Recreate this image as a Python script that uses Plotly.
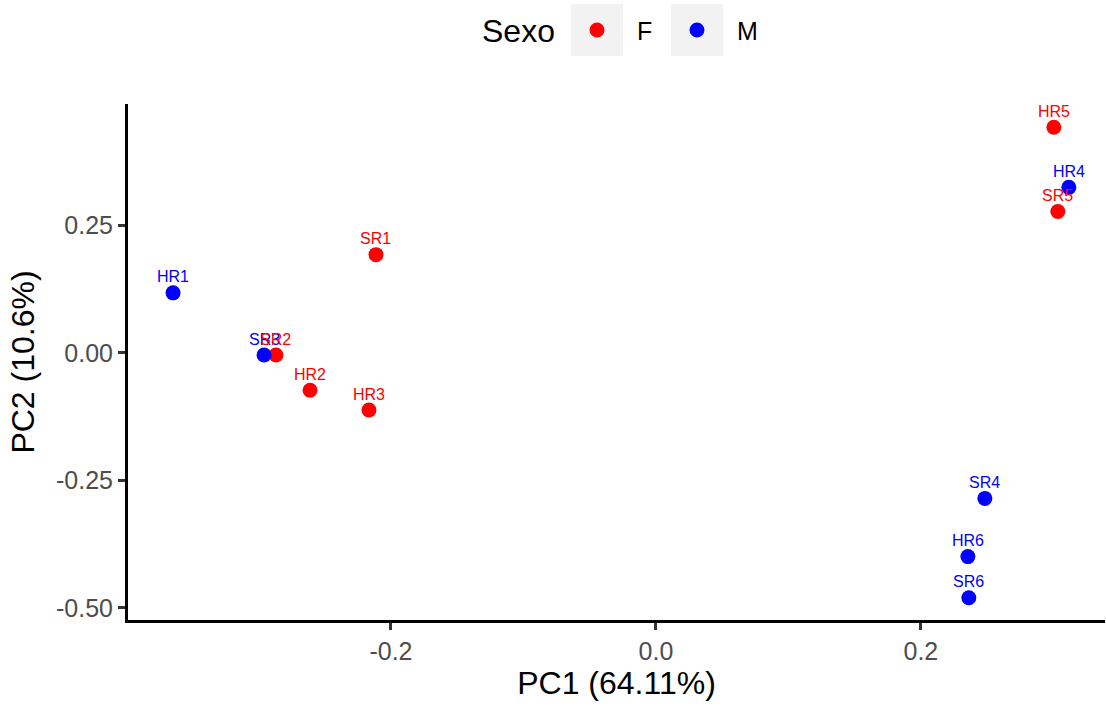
import plotly.graph_objects as go

# PCA scores per sample
samples = ["HR1", "SR3", "SR2", "HR2", "HR3", "SR1", "HR5", "HR4", "SR5", "SR4", "HR6", "SR6"]
sexo = ["M", "M", "F", "F", "F", "F", "F", "M", "F", "M", "M", "M"]
pc1 = [-0.3645, -0.2958, -0.2868, -0.2611, -0.2166, -0.2113, 0.3004, 0.3117, 0.3034, 0.2483, 0.2355, 0.2362]
pc2 = [0.118, -0.004, -0.004, -0.073, -0.112, 0.193, 0.443, 0.325, 0.2776, -0.2854, -0.3996, -0.4803]

groups = ["F", "M"]
group_colors = {"F": "#FF0000", "M": "#0000FF"}

x_ticks = [-0.2, 0.0, 0.2]
x_ticktext = ["-0.2", "0.0", "0.2"]
y_ticks = [-0.5, -0.25, 0.0, 0.25]
y_ticktext = ["-0.50", "-0.25", "0.00", "0.25"]

FONT = "Liberation Sans, Arial, Helvetica, sans-serif"
W, H = 1106, 706
L, R, T, B = 128, 1, 104, 86
PW, PH = W - L - R, H - T - B


def px_x(px):
    return (px - L) / PW


def px_y(py):
    return (H - B - py) / PH


fig = go.Figure()

for g in groups:
    idx = [i for i, s in enumerate(sexo) if s == g]
    fig.add_trace(go.Scatter(
        x=[pc1[i] for i in idx],
        y=[pc2[i] for i in idx],
        mode="markers",
        name=g,
        showlegend=False,
        marker=dict(size=15, color=group_colors[g], line=dict(width=0)),
        hovertext=[samples[i] for i in idx],
    ))

# sample labels above each point
for name, g, x, y in zip(samples, sexo, pc1, pc2):
    fig.add_annotation(
        x=x, y=y, text=name, showarrow=False, yshift=16,
        font=dict(family=FONT, size=16, color=group_colors[g]),
    )

# legend drawn at the top: title, grey key boxes, dots and labels
shapes = []
annotations = [dict(
    xref="paper", yref="paper", x=px_x(480), y=px_y(31), xanchor="left", yanchor="middle",
    text="Sexo", showarrow=False, font=dict(family=FONT, size=32, color="black"),
)]
key_left = {"F": 571, "M": 671}
for g in groups:
    x0 = key_left[g]
    shapes.append(dict(
        type="rect", xref="paper", yref="paper", layer="above",
        x0=px_x(x0), x1=px_x(x0 + 52), y0=px_y(56), y1=px_y(4),
        fillcolor="#F2F2F2", line=dict(width=0),
    ))
    cx, cy, r = x0 + 26, 30, 7.5
    shapes.append(dict(
        type="circle", xref="paper", yref="paper", layer="above",
        x0=px_x(cx - r), x1=px_x(cx + r), y0=px_y(cy + r), y1=px_y(cy - r),
        fillcolor=group_colors[g], line=dict(width=0),
    ))
    annotations.append(dict(
        xref="paper", yref="paper", x=px_x(x0 + 64), y=px_y(31), xanchor="left", yanchor="middle",
        text=g, showarrow=False, font=dict(family=FONT, size=25, color="black"),
    ))
for a in annotations:
    fig.add_annotation(**a)

axis_common = dict(
    showgrid=False, zeroline=False,
    showline=True, linecolor="black", linewidth=3,
    ticks="outside", ticklen=7, tickwidth=2.5, tickcolor="#333333",
    tickfont=dict(family=FONT, size=25, color="#4D4D4D"),
)

fig.update_layout(
    width=W, height=H,
    margin=dict(l=L, r=R, t=T, b=B, pad=0),
    paper_bgcolor="white", plot_bgcolor="white",
    font=dict(family=FONT),
    shapes=shapes,
    xaxis=dict(
        range=[-0.3985, 0.339], tickvals=x_ticks, ticktext=x_ticktext,
        title=dict(text="PC1 (64.11%)", font=dict(family=FONT, size=32, color="black"), standoff=6),
        **axis_common,
    ),
    yaxis=dict(
        range=[-0.524, 0.4886], tickvals=y_ticks, ticktext=y_ticktext,
        title=dict(text="PC2 (10.6%)", font=dict(family=FONT, size=32, color="black"), standoff=12),
        **axis_common,
    ),
)

fig.write_html("out.html")
